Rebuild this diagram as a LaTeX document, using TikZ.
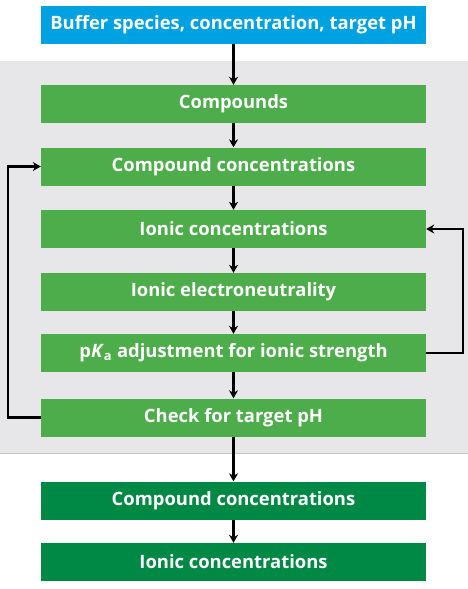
\documentclass[tikz,border=0pt]{standalone}
\usepackage{fontspec}
\setmainfont{Open Sans}
\usepackage{tikz}
\usetikzlibrary{arrows.meta}

\definecolor{bufblue}{RGB}{0,161,224}
\definecolor{stepgreen}{RGB}{76,173,74}
\definecolor{outgreen}{RGB}{0,137,69}
\definecolor{loopgray}{RGB}{231,230,233}

\tikzset{
  box/.style={rectangle,minimum width=385pt,minimum height=38pt,inner sep=0pt,
    text=white,font=\fontsize{18.4}{22}\selectfont\bfseries},
  bufbox/.style={box,fill=bufblue},
  stepbox/.style={box,fill=stepgreen},
  outbox/.style={box,fill=outgreen},
  flow/.style={-{Stealth[length=8pt,width=9pt]},line width=2.2pt}
}

\begin{document}
\begin{tikzpicture}[x=1pt,y=-1pt]
            \useasboundingbox (0,0) rectangle (468,589);
            % iteration band
            \fill[loopgray] (0,61) rectangle (468,453);
            \draw[loopgray!85!black,line width=1pt] (0,453) -- (468,453);
            \node (buf) at (233.5,24.5) [bufbox] {Buffer species, concentration, target pH};
            \node (cmp) at (233.5,104) [stepbox] {Compounds};
            \node (cc) at (233.5,166.5) [stepbox] {Compound concentrations};
            \node (ic) at (233.5,229) [stepbox] {Ionic concentrations};
            \node (ien) at (233.5,292) [stepbox] {Ionic electroneutrality};
            \node (pka) at (233.5,353) [stepbox] {p\textit{K}\textsubscript{a} adjustment for ionic strength};
            \node (chk) at (233.5,417.5) [stepbox] {Check for target pH};
            \node (occ) at (233.5,500.5) [outbox] {Compound concentrations};
            \node (oic) at (233.5,562) [outbox] {Ionic concentrations};
            \draw[flow] (buf) -- (cmp);
            \draw[flow] (cmp) -- (cc);
            \draw[flow] (cc) -- (ic);
            \draw[flow] (ic) -- (ien);
            \draw[flow] (ien) -- (pka);
            \draw[flow] (pka) -- (chk);
            \draw[flow] (chk) -- (occ);
            \draw[flow] (occ) -- (oic);
            % loops
            \draw[flow] (chk.west) -- ++(-33,0) |- (cc.west);
            \draw[flow] (pka.east) -- ++(37,0) |- (ic.east);
        \end{tikzpicture}
\end{document}
